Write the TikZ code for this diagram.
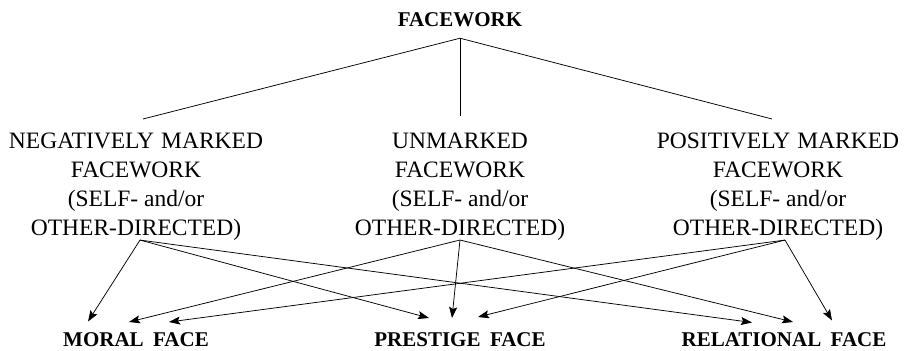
\documentclass[tikz,border=0pt]{standalone}
\usepackage{fontspec}
\setmainfont{Liberation Serif}
\usetikzlibrary{arrows.meta}
\begin{document}
\begin{tikzpicture}[x=1pt,y=-1pt,
  every node/.style={inner sep=0pt, outer sep=0pt},
  col/.style={align=center, font=\fontsize{23.5}{29}\selectfont, anchor=north},
  face/.style={font=\fontsize{21}{24}\selectfont\bfseries, anchor=north},
  titlebox/.style={font=\fontsize{21}{25}\selectfont\bfseries, anchor=north},
  link/.style={line width=0.75pt},
  arr/.style={line width=0.75pt, -{Stealth[length=11pt,width=8pt,inset=2pt]}}]
\useasboundingbox (0,0) rectangle (911,351);

\node[titlebox] (fw) at (460,12.5) {FACEWORK};

\node[col] (neg) at (136,132.5) {NEGATIVELY\hspace{0.3em}MARKED\\FACEWORK\\(SELF- and/or\\OTHER-DIRECTED)};
\node[col] (unm) at (460,132.5) {UNMARKED\\FACEWORK\\(SELF- and/or\\OTHER-DIRECTED)};
\node[col] (pos) at (778,132.5) {POSITIVELY\hspace{0.3em}MARKED\\FACEWORK\\(SELF- and/or\\OTHER-DIRECTED)};

\node[face] (mor) at (136,333) {MORAL\hspace{0.45em}FACE};
\node[face] (pre) at (460,333) {PRESTIGE\hspace{0.45em}FACE};
\node[face] (rel) at (784,333) {RELATIONAL\hspace{0.45em}FACE};

% tree lines
\coordinate (apex) at ([yshift=-11.5pt]fw.south);
\draw[link] (apex) -- ([xshift=7pt,yshift=13.5pt]neg.north);
\draw[link] (apex) -- ([yshift=17pt]unm.north);
\draw[link] (apex) -- ([xshift=-6pt,yshift=13.5pt]pos.north);

% arrow origins
\coordinate (ns) at ([xshift=4pt]neg.south);
\coordinate (us) at (unm.south);
\coordinate (ps) at ([xshift=7pt]pos.south);

% to moral face
\draw[arr] (ns) -- ([xshift=-48pt,yshift=11.5pt]mor.north);
\draw[arr] (us) -- ([xshift=-7pt,yshift=11pt]mor.north);
\draw[arr] (ps) -- ([xshift=33pt,yshift=11pt]mor.north);

% to prestige face
\draw[arr] (ns) -- ([xshift=-31pt,yshift=15pt]pre.north);
\draw[arr] (us) -- ([xshift=-8pt,yshift=15pt]pre.north);
\draw[arr] (ps) -- ([xshift=18pt,yshift=16pt]pre.north);

% to relational face
\draw[arr] (ns) -- ([xshift=-32pt,yshift=10.5pt]rel.north);
\draw[arr] (us) -- ([xshift=9pt,yshift=11pt]rel.north);
\draw[arr] (ps) -- ([xshift=48pt,yshift=12.5pt]rel.north);
\end{tikzpicture}
\end{document}
